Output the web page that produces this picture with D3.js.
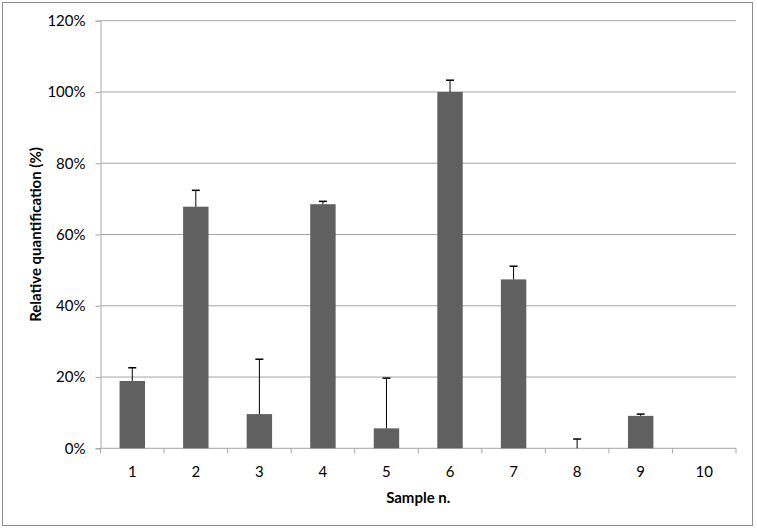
<!DOCTYPE html>
<html>
<head>
<meta charset="utf-8">
<script src="https://cdn.jsdelivr.net/npm/d3@7"></script>
<style>
  body { margin: 0; background: #fff; }
  svg text { font-family: Lato, "Open Sans", sans-serif; fill: #000; }
</style>
</head>
<body>
<svg id="chart" width="757" height="529"></svg>
<script>
var samples = ["1", "2", "3", "4", "5", "6", "7", "8", "9", "10"];
var values = [18.9, 67.8, 9.6, 68.5, 5.6, 100, 47.4, 0, 9.1, 0];
var errors = [3.7, 4.6, 15.4, 0.8, 14.1, 3.3, 3.7, 2.6, 0.5, 0];
var yTicks = [0, 20, 40, 60, 80, 100, 120];

var svg = d3.select("#chart");
var plotLeft = 100.5, plotRight = 736, plotTop = 20.7, plotBottom = 448.3;

// outer frame
svg.append("rect")
  .attr("x", 2.5).attr("y", 2.5)
  .attr("width", 750).attr("height", 523)
  .attr("fill", "#fff")
  .attr("stroke", "#8c8c8c")
  .attr("stroke-width", 1);

var x = d3.scaleBand().domain(samples).range([plotLeft, plotRight]).paddingInner(0.6).paddingOuter(0.3);
var xEdge = d3.scaleLinear().domain([0, samples.length]).range([plotLeft, plotRight]);
var y = d3.scaleLinear().domain([0, 120]).range([plotBottom, plotTop]);

// grid lines
svg.append("g")
  .selectAll("line")
  .data(yTicks.slice(1))
  .enter()
  .append("line")
  .attr("x1", plotLeft).attr("x2", plotRight)
  .attr("y1", function(d){ return y(d); })
  .attr("y2", function(d){ return y(d); })
  .attr("stroke", "#a6a6a6")
  .attr("stroke-width", 1);

// y axis
var yAxis = d3.axisLeft(y).tickValues(yTicks).tickSize(5).tickPadding(10)
  .tickFormat(function(d){ return d + "%"; });
var gy = svg.append("g").attr("transform", "translate(" + plotLeft + ",0)").call(yAxis);
gy.select(".domain").attr("stroke", "#a6a6a6");
gy.selectAll(".tick line").attr("stroke", "#a6a6a6");
gy.selectAll("text").style("font-size", "15px").style("font-family", "Lato, sans-serif");

// x axis with ticks on band edges
var gx = svg.append("g").attr("transform", "translate(0," + plotBottom + ")");
gx.append("line").attr("x1", plotLeft).attr("x2", plotRight).attr("stroke", "#a6a6a6");
gx.selectAll(".edge")
  .data(d3.range(samples.length + 1))
  .enter()
  .append("line")
  .attr("class", "edge")
  .attr("x1", function(d){ return xEdge(d); })
  .attr("x2", function(d){ return xEdge(d); })
  .attr("y1", 0).attr("y2", 5)
  .attr("stroke", "#a6a6a6");
gx.selectAll(".lbl")
  .data(samples)
  .enter()
  .append("text")
  .attr("class", "lbl")
  .attr("x", function(d){ return x(d) + x.bandwidth() / 2; })
  .attr("y", 29)
  .attr("text-anchor", "middle")
  .style("font-size", "15px")
  .text(function(d){ return d; });

// bars
svg.append("g")
  .selectAll("rect")
  .data(values)
  .enter()
  .append("rect")
  .attr("x", function(d, i){ return x(samples[i]); })
  .attr("y", function(d){ return y(d); })
  .attr("width", x.bandwidth())
  .attr("height", function(d){ return plotBottom - y(d); })
  .attr("fill", "#606060");

// error bars (upper only)
var eb = svg.append("g");
values.forEach(function(v, i){
  if (errors[i] <= 0) return;
  var cx = x(samples[i]) + x.bandwidth() / 2;
  eb.append("line")
    .attr("x1", cx).attr("x2", cx)
    .attr("y1", y(v)).attr("y2", y(v + errors[i]))
    .attr("stroke", "#000").attr("stroke-width", 1);
  eb.append("line")
    .attr("x1", cx - 4).attr("x2", cx + 4)
    .attr("y1", y(v + errors[i])).attr("y2", y(v + errors[i]))
    .attr("stroke", "#000").attr("stroke-width", 1.5);
});

// axis titles
svg.append("text")
  .attr("x", (plotLeft + plotRight) / 2)
  .attr("y", 503)
  .attr("text-anchor", "middle")
  .style("font-size", "15px")
  .style("font-weight", "bold")
  .text("Sample n.");

svg.append("text")
  .attr("transform", "translate(41," + ((plotTop + plotBottom) / 2) + ") rotate(-90)")
  .attr("text-anchor", "middle")
  .style("font-size", "15px")
  .style("font-weight", "bold")
  .text("Relative quantification (%)");
</script>
</body>
</html>
